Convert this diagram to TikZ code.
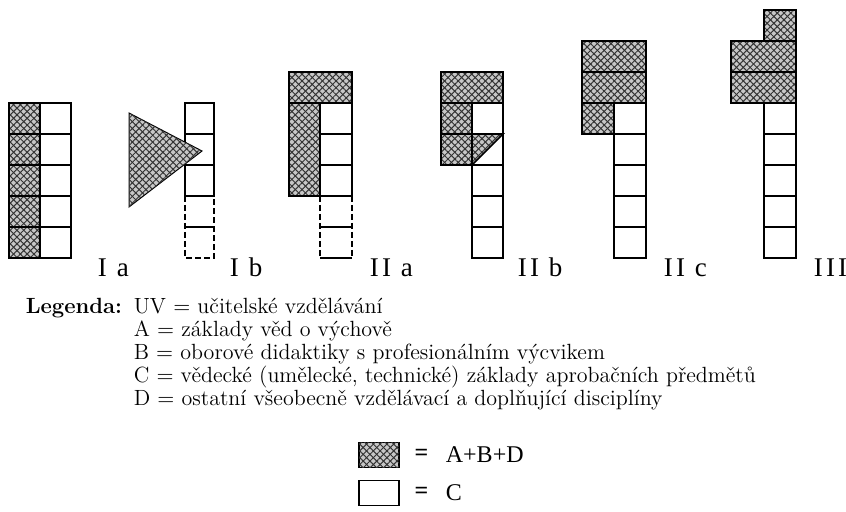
\documentclass[tikz,border=0pt]{standalone}
\usepackage{fontspec}
\newfontfamily\labelfont[LetterSpace=12]{Liberation Serif}
\newfontfamily\keyfont{Liberation Serif}
\usetikzlibrary{patterns.meta,positioning}
\tikzset{
  hatched/.style={fill=black!22,
    postaction={pattern={Lines[angle=45,distance=2.4pt,line width=0.5pt]},pattern color=black!80},
    postaction={pattern={Lines[angle=-45,distance=2.4pt,line width=0.5pt]},pattern color=black!80}},
  dashside/.style={dash pattern=on 3pt off 1.5pt},
  figlabel/.style={font=\labelfont\fontsize{13.5}{14}\selectfont, anchor=base west, inner sep=0pt},
  legline/.style={font=\fontsize{11}{12}\selectfont, anchor=base west, inner sep=0pt},
  keybox/.style={draw, minimum width=20pt, minimum height=12.5pt, inner sep=0pt},
  keytext/.style={font=\keyfont\fontsize{12}{13}\selectfont, inner sep=0pt},
  keyeq/.style={font=\keyfont\bfseries\fontsize{12}{13}\selectfont, inner sep=0pt}
}

\begin{document}
\begin{tikzpicture}[x=0.5pt,y=-0.5pt,line width=0.8pt]
  \useasboundingbox (0,0) rectangle (846,512);
  % I a: shaded column beside the C column
  \fill[hatched] (9,103) rectangle (40,258);
  \foreach \y in {103,134,165,196,227} \draw (9,\y) rectangle (71,\y+31);
  \draw (40,103) -- (40,258);
  % I b: wedge in front of the C column
  \foreach \y in {103,134,165} \draw (185,\y) rectangle (214,\y+31);
  \draw[dashside] (185,196) -- (185,258) -- (214,258) -- (214,196);
  \draw (185,227) -- (214,227);
  \filldraw[hatched, line width=0.5pt] (129,113) -- (202,151) -- (129,207) -- cycle;
  % II a
  \fill[hatched] (289,72) rectangle (352,103);
  \fill[hatched] (289,103) rectangle (320,196);
  \draw (289,72) rectangle (352,103);
  \draw (289,103) rectangle (320,196);
  \foreach \y in {103,134,165} \draw (320,\y) rectangle (352,\y+31);
  \draw[dashside] (320,196) -- (320,258);
  \draw[dashside] (352,196) -- (352,258);
  \draw (320,227) -- (352,227) (320,258) -- (352,258);
  % II b
  \fill[hatched] (441,72) rectangle (503,103);
  \fill[hatched] (441,103) rectangle (472,134);
  \fill[hatched] (441,134) -- (503,134) -- (472,165) -- (441,165) -- cycle;
  \draw (441,72) rectangle (503,103);
  \draw (441,103) rectangle (472,165);
  \foreach \y in {103,134,165,196,227} \draw (472,\y) rectangle (503,\y+31);
  \draw (441,134) -- (503,134) -- (472,165);
  % II c
  \fill[hatched] (582,41) rectangle (646,103);
  \fill[hatched] (582,103) rectangle (614,134);
  \draw (582,41) rectangle (646,72);
  \draw (582,72) rectangle (646,103);
  \draw (582,103) rectangle (614,134);
  \foreach \y in {103,134,165,196,227} \draw (614,\y) rectangle (646,\y+31);
  % III
  \fill[hatched] (764,10) rectangle (796,41);
  \fill[hatched] (731,41) rectangle (796,103);
  \draw (764,10) rectangle (796,41);
  \draw (731,41) rectangle (796,72);
  \draw (731,72) rectangle (796,103);
  \foreach \y in {103,134,165,196,227} \draw (764,\y) rectangle (796,\y+31);
  % labels under the columns
  \node[figlabel] (labIa) at (97,277) {I a};
  \node[figlabel] (labIb) at (229,277) {I b};
  \node[figlabel] (labIIa) at (369,277) {II a};
  \node[figlabel] (labIIb) at (517,277) {II b};
  \node[figlabel] (labIIc) at (663,277) {II c};
  \node[figlabel] (labIII) at (813,277) {III};
  % legend
  \node[legline] (legend) at (25,314) {\bfseries Legenda:};
  \node[legline] (legUV) at (133,314) {UV $=$ učitelské vzdělávání};
  \node[legline] (legA) at (133,337) {A $=$ základy věd o výchově};
  \node[legline] (legB) at (133,360) {B $=$ oborové didaktiky s profesionálním výcvikem};
  \node[legline] (legC) at (133,383) {C $=$ vědecké (umělecké, technické) základy aprobačních předmětů};
  \node[legline] (legD) at (133,406) {D $=$ ostatní všeobecně vzdělávací a doplňující disciplíny};
  % key
  \node[keybox, hatched] (keyABD) at (379,455) {};
  \node[keyeq, right=7pt of keyABD] (eqABD) {=};
  \node[keytext, right=8pt of eqABD] (txtABD) {A+B+D};
  \node[keybox] (keyC) at (379,493) {};
  \node[keyeq, right=7pt of keyC] (eqC) {=};
  \node[keytext, right=8pt of eqC] (txtC) {C};
\end{tikzpicture}
\end{document}
